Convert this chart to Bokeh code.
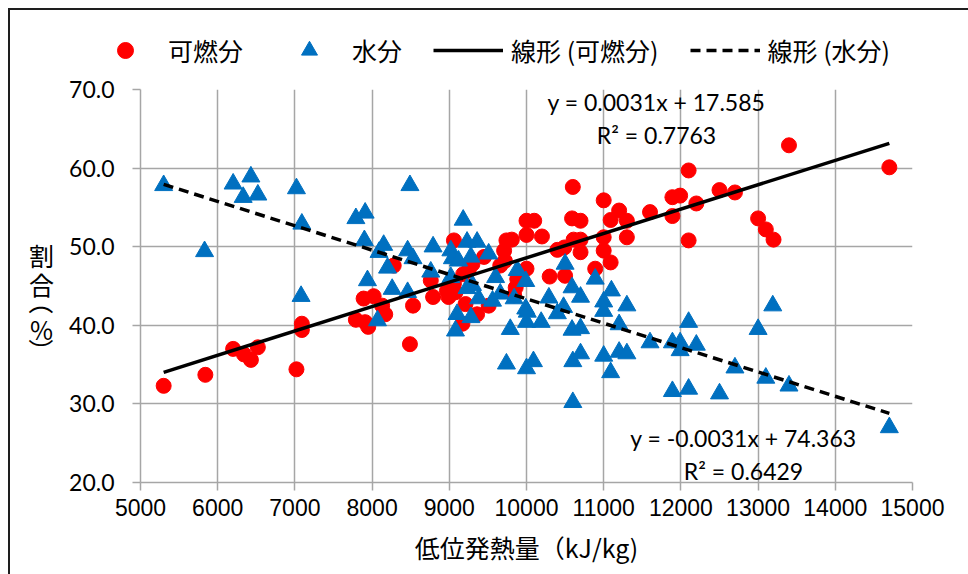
import math
from bokeh.plotting import figure
from bokeh.layouts import column, row
from bokeh.models import (Legend, LegendItem, Label, SingleIntervalTicker,
                          PrintfTickFormatter, BasicTickFormatter, Range1d)
from bokeh.embed import file_html
from bokeh.resources import INLINE

# ---- data ----
comb_x = [5300, 5840, 6200, 6340, 6430, 6520, 7020, 7090, 7090, 7790, 7910, 7950, 7890, 8020,
          8130, 8170, 8280, 8490, 8530, 8760, 8790, 8970, 8990, 9060, 9060, 9080, 9170, 9180,
          9210, 9250, 9300, 9360, 9450, 9510, 9660, 9710, 9720, 9740, 9810, 9840, 9860, 9880,
          10000, 10000, 10000, 10100, 10200, 10300, 10400, 10490, 10500, 10590, 10600, 10610,
          10700, 10700, 10700, 10890, 11000, 11000, 11000, 11090, 11090, 11200, 11300, 11300,
          11600, 11890, 11890, 11990, 12100, 12100, 12200, 12500, 12700, 13000, 13100, 13200,
          13400, 14700]
comb_y = [32.3, 33.7, 37.0, 36.3, 35.6, 37.2, 34.4, 40.2, 39.4, 40.7, 40.4, 39.8, 43.4, 43.7,
          42.5, 41.4, 47.6, 37.6, 42.5, 45.7, 43.6, 44.4, 43.6, 45.3, 50.8, 44.2, 40.2, 46.5,
          42.7, 47.0, 47.8, 41.4, 48.7, 42.5, 47.6, 49.5, 48.2, 50.8, 50.9, 43.8, 44.8, 45.9,
          47.2, 51.5, 53.3, 53.3, 51.3, 46.2, 49.6, 49.9, 46.3, 53.6, 57.6, 50.9,
          53.3, 50.9, 49.3, 47.2, 55.9, 51.2, 49.5, 53.4, 48.0, 54.6, 53.3, 51.2,
          54.4, 56.3, 53.9, 56.5, 59.7, 50.8, 55.5, 57.2, 56.9, 53.6, 52.2, 50.9,
          62.9, 60.1]

water_x = [5300, 5830, 6200, 6330, 6430, 6520, 7020, 7090, 7080, 7790, 7910, 7900, 7940, 8070,
           8090, 8150, 8200, 8260, 8460, 8460, 8490, 8530, 8760, 8790, 9020, 9020, 9040, 9080,
           9100, 9120, 9180, 9230, 9230, 9280, 9280, 9300, 9360, 9380, 9510, 9560, 9600, 9660,
           9740, 9790, 9840, 9880, 9990, 9990, 10000, 10000, 10010, 10090, 10190, 10290, 10400,
           10480, 10500, 10590, 10590, 10600, 10600, 10700, 10700, 10700, 10890, 11000, 11000,
           11000, 11100, 11090, 11200, 11200, 11300, 11300, 11600, 11890, 11890, 11990, 11990,
           12100, 12100, 12200, 12500, 12700, 13000, 13100, 13190, 13400, 14700]
water_y = [57.8, 49.4, 58.0, 56.3, 58.9, 56.6, 57.4, 52.9, 43.7, 53.6, 54.3, 50.8, 45.7, 40.6,
           49.3, 50.2, 47.3, 44.6, 44.2, 49.5, 57.8, 48.5, 46.8, 50.0, 49.5, 46.1, 48.5, 39.3,
           41.4, 48.2, 53.4, 50.6, 44.7, 48.7, 41.0, 45.1, 50.6, 43.4, 49.1, 43.1, 46.1, 44.0,
           35.1, 39.5, 43.4, 47.0, 45.6, 42.1, 40.4, 34.5, 41.7, 35.4, 40.4, 43.5, 41.5,
           42.3, 47.8, 44.8, 39.4, 35.4, 30.2, 43.6, 39.6, 36.4, 45.9, 43.0, 41.8,
           36.1, 44.4, 34.0, 40.1, 36.6, 42.5, 36.4, 37.8, 37.8, 31.6, 37.8, 36.8,
           40.4, 31.9, 37.5, 31.3, 34.6, 39.5, 33.3, 42.5, 32.3, 27.0]

# trendline coefficients as printed on the chart
comb_slope, comb_intercept = 0.0031, 17.585
water_slope, water_intercept = -0.0031, 74.363
comb_eq = ["y = 0.0031x + 17.585", "R² = 0.7763"]
water_eq = ["y = -0.0031x + 74.363", "R² = 0.6429"]

series_names = ["可燃分", "水分", "線形 (可燃分)", "線形 (水分)"]
x_title = "低位発熱量（kJ/kg)"
# vertical (stacked) y-axis title: 割合（%）
y_title_chars = ["割", "合", "（", "%", "）"]

RED = "#FF0000"
BLUE = "#0070C0"
GRID = "#A6A6A6"
JP = "Noto Sans CJK JP"
NUM = "Lato"
W, H, TOP_H, LEFT_W = 968, 574, 70, 60

# ---------------- main chart ----------------
p = figure(frame_width=772, frame_height=393,
           min_border_left=80, min_border_right=56, min_border_top=19, min_border_bottom=92,
           x_range=Range1d(5000, 15000), y_range=Range1d(20, 70),
           output_backend="svg", toolbar_location=None,
           border_fill_color=None, background_fill_color=None, outline_line_color=None)

p.xaxis.ticker = SingleIntervalTicker(interval=1000)
p.yaxis.ticker = SingleIntervalTicker(interval=10)
p.xaxis.formatter = BasicTickFormatter(use_scientific=False)
p.yaxis.formatter = PrintfTickFormatter(format="%.1f")
for ax in (p.xaxis[0], p.yaxis[0]):
    ax.axis_line_color = GRID
    ax.axis_line_width = 1.5
    ax.major_tick_line_color = GRID
    ax.major_tick_line_width = 1.5
    ax.major_tick_in = 0
    ax.major_tick_out = 8
    ax.minor_tick_line_color = None
    ax.major_label_text_color = "#000000"
p.xaxis.major_label_text_font = "Liberation Sans"
p.xaxis.major_label_text_font_size = "23px"
p.xaxis.major_label_standoff = 8
p.yaxis.major_label_text_font = NUM
p.yaxis.major_label_text_font_size = "23px"
p.yaxis.major_label_standoff = 18
p.xaxis.axis_label = x_title
p.xaxis.axis_label_text_font = JP
p.xaxis.axis_label_text_font_size = "25px"
p.xaxis.axis_label_text_font_style = "normal"
p.xaxis.axis_label_text_color = "#000000"
p.xaxis.axis_label_standoff = 10
for g in (p.xgrid[0], p.ygrid[0]):
    g.grid_line_color = GRID
    g.grid_line_width = 1.5

p.scatter(comb_x, comb_y, marker="circle", size=15, fill_color=RED, line_color=RED)
p.scatter(water_x, water_y, marker="triangle", size=18, fill_color=BLUE, line_color=BLUE)

cx = [min(comb_x), max(comb_x)]
wx = [min(water_x), max(water_x)]
c_trend = [comb_slope * v + comb_intercept for v in cx]
w_trend = [water_slope * v + water_intercept for v in wx]
p.line(cx, c_trend, line_color="black", line_width=3.5)
p.line(wx, w_trend, line_color="black", line_width=3.5, line_dash="10 6")

for txt, yy in zip(comb_eq, [68.4, 64.2]):
    p.add_layout(Label(x=11684, y=yy, text=txt, text_align="center", text_baseline="middle",
                       text_font=NUM, text_font_size="23px", text_color="#000000"))
for txt, yy in zip(water_eq, [25.6, 21.5]):
    p.add_layout(Label(x=12811, y=yy, text=txt, text_align="center", text_baseline="middle",
                       text_font=NUM, text_font_size="23px", text_color="#000000"))

# ---------------- y-axis title strip (stacked characters) ----------------
STRIP_H = H - TOP_H
tf = figure(frame_width=LEFT_W, frame_height=STRIP_H, min_border=0,
            x_range=Range1d(0, LEFT_W), y_range=Range1d(0, STRIP_H),
            x_axis_type=None, y_axis_type=None,
            output_backend="svg", toolbar_location=None,
            border_fill_color=None, background_fill_color=None, outline_line_color=None)
tf.xgrid.visible = False
tf.ygrid.visible = False
title_from_top = [165, 194, 212.5, 239, 261.5]
for ch, yy in zip(y_title_chars, title_from_top):
    ang = -math.pi / 2 if ch in "（）" else 0
    tf.add_layout(Label(x=41, y=STRIP_H - yy, text=ch, angle=ang, text_align="center",
                        text_baseline="middle", text_font=JP, text_font_size="25px",
                        text_color="#000000"))

# ---------------- legend strip (proxies use the same series, out of view) ----------------
lg = figure(frame_width=W, frame_height=TOP_H, min_border=0,
            x_range=Range1d(0, 1), y_range=Range1d(0, 1),
            x_axis_type=None, y_axis_type=None,
            output_backend="svg", toolbar_location=None,
            border_fill_color=None, background_fill_color=None, outline_line_color=None)
lg.xgrid.visible = False
lg.ygrid.visible = False
e_comb = lg.scatter(comb_x, comb_y, marker="circle", size=15, fill_color=RED, line_color=RED)
e_water = lg.scatter(water_x, water_y, marker="triangle", size=18,
                     fill_color=BLUE, line_color=BLUE)
e_ct = lg.line(cx, c_trend, line_color="black", line_width=3.5)
e_wt = lg.line(wx, w_trend, line_color="black", line_width=3.5, line_dash="10 6")

legend = Legend(items=[LegendItem(label=series_names[0], renderers=[e_comb]),
                       LegendItem(label=series_names[1], renderers=[e_water]),
                       LegendItem(label=series_names[2], renderers=[e_ct]),
                       LegendItem(label=series_names[3], renderers=[e_wt])],
                orientation="horizontal", location=(90, 0),
                border_line_color=None, background_fill_alpha=0,
                padding=0, margin=0, spacing=31, glyph_width=70, glyph_height=40,
                label_height=40, label_standoff=8,
                label_text_font=JP, label_text_font_size="25px",
                label_text_baseline="middle", label_text_color="#000000")
lg.add_layout(legend)

bar = "linear-gradient(#1e1e1e, #1e1e1e)"
layout = column(lg, row(tf, p, spacing=0), spacing=0,
                styles={"background": f"{bar} 8px 8px / 2px 100% no-repeat, "
                                      f"{bar} 8px 8px / 100% 2px no-repeat"})

open("out.html", "w").write(file_html(layout, INLINE))
